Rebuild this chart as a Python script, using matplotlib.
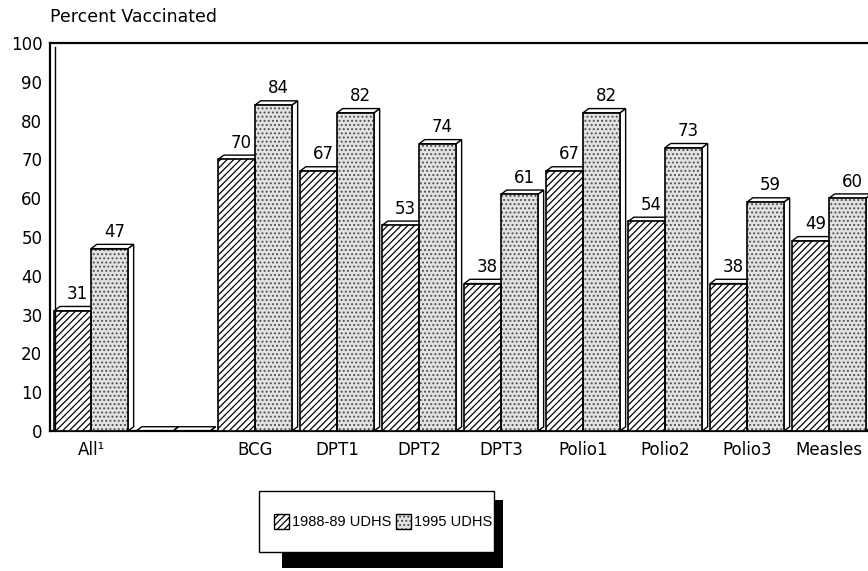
"""Percent vaccinated by vaccine, 1988-89 UDHS vs 1995 UDHS (3D-style bar chart)."""

import matplotlib
matplotlib.use("Agg")
import matplotlib.pyplot as plt
from matplotlib.patches import Polygon, Rectangle

plt.rcParams["font.family"] = ["DejaVu Sans"]
plt.rcParams["hatch.linewidth"] = 0.9

categories = ["All\u00b9", "", "BCG", "DPT1", "DPT2", "DPT3", "Polio1", "Polio2", "Polio3", "Measles"]
udhs_1988 = [31, 0, 70, 67, 53, 38, 67, 54, 38, 49]
udhs_1995 = [47, 0, 84, 82, 74, 61, 82, 73, 59, 60]
series_labels = ["1988-89 UDHS", "1995 UDHS"]
yticks = [0, 10, 20, 30, 40, 50, 60, 70, 80, 90, 100]

W, H = 868, 571
BAR_W = 0.45
DX, DY = 0.07, 1.1   # depth of the fake 3D slab, in data units

HATCHED = dict(facecolor="white", hatch="/////", edgecolor="black")
DOTTED = dict(facecolor="#e2e2e2", hatch="....", edgecolor="#505050")

fig = plt.figure(figsize=(W / 100, H / 100), dpi=100)
ax = fig.add_axes([50 / W, (H - 431) / H, (W - 50) / W, (431 - 43) / H])


def bar3d(x, h, style):
    left, right = x - BAR_W / 2, x + BAR_W / 2
    # side face and top slab first, then the front face
    ax.add_patch(Polygon([(right, 0), (right, h), (right + DX, h + DY), (right + DX, DY)],
                         closed=True, facecolor="white", edgecolor="black", lw=1.0, zorder=2))
    ax.add_patch(Polygon([(left, h), (left + DX, h + DY), (right + DX, h + DY), (right, h)],
                         closed=True, facecolor="white", edgecolor="black", lw=1.0, zorder=2))
    ax.bar(x, h, BAR_W, lw=0, zorder=3, **style)
    ax.bar(x, h, BAR_W, fill=False, edgecolor="black", lw=1.2, zorder=4)


for i, (cat, a, b) in enumerate(zip(categories, udhs_1988, udhs_1995)):
    bar3d(i - BAR_W / 2, a, HATCHED)
    bar3d(i + BAR_W / 2, b, DOTTED)
    if cat:
        ax.text(i - BAR_W / 2 + 0.06, a + 3.0, str(a), ha="center", va="baseline", fontsize=12)
        ax.text(i + BAR_W / 2 + 0.06, b + 3.0, str(b), ha="center", va="baseline", fontsize=12)

ax.set_xlim(-0.5, (W - 91) / 82)
ax.set_ylim(0, 100)
ax.set_yticks(yticks)
ax.set_xticks(range(len(categories)))
ax.set_xticklabels(categories, fontsize=12)
ax.tick_params(axis="y", length=0, pad=5.5, labelsize=12)
ax.tick_params(axis="x", length=0, pad=7)
for side in ["left", "top", "bottom"]:
    ax.spines[side].set_linewidth(1.6)
ax.spines["right"].set_visible(False)

fig.text(50 / W, 1 - 17 / H, "Percent Vaccinated", fontsize=12.5, ha="left", va="center")

# overlay in pixel coordinates for the wall line and the legend
ov = fig.add_axes([0, 0, 1, 1], zorder=5)
ov.set_xlim(0, W)
ov.set_ylim(H, 0)
ov.axis("off")
ov.patch.set_alpha(0)
ov.plot([54.5, 54.5], [47, 429], color="black", lw=1.0)

ov.add_patch(Rectangle((282, 500), 221, 68, facecolor="black", edgecolor="none"))
ov.add_patch(Rectangle((259, 491), 235, 61, facecolor="white", edgecolor="black", lw=1.0))
for (x0, label, style) in [(274, series_labels[0], HATCHED), (396, series_labels[1], DOTTED)]:
    ov.add_patch(Rectangle((x0, 514), 15, 15, lw=0, **style))
    ov.add_patch(Rectangle((x0, 514), 15, 15, fill=False, edgecolor="black", lw=1.0))
    ov.text(x0 + 18, 522, label, fontsize=10.5, family="Liberation Sans",
            ha="left", va="center")

fig.savefig("out.png", dpi=100)
